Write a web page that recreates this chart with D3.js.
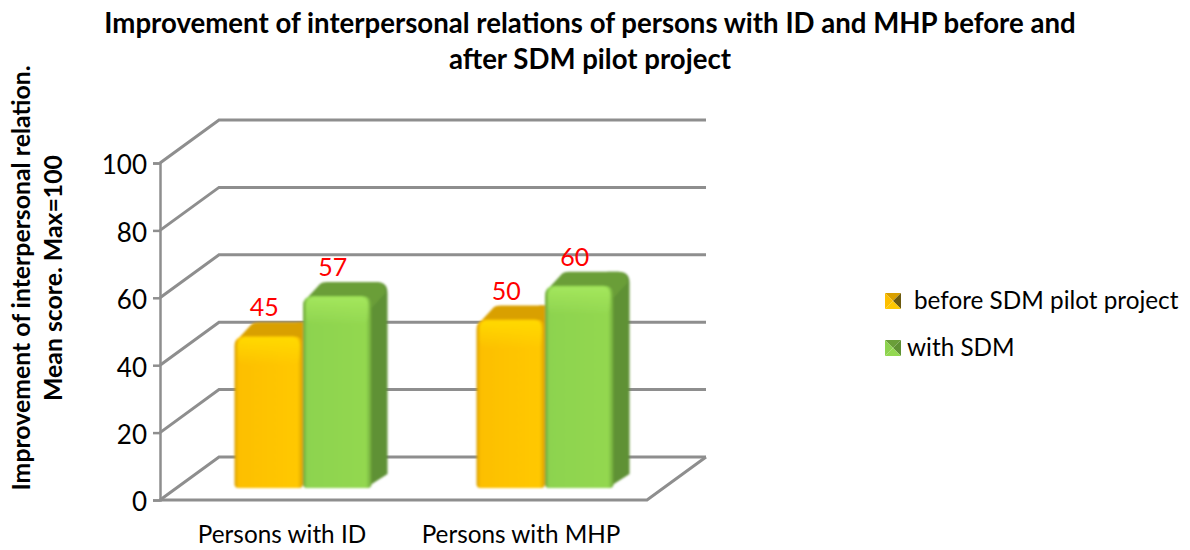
<!DOCTYPE html>
<html>
<head>
<meta charset="utf-8">
<script src="https://cdn.jsdelivr.net/npm/d3@7"></script>
<style>
  html, body { margin: 0; background: #fff; }
  text { font-family: Lato, "Open Sans", sans-serif; fill: #000; }
</style>
</head>
<body>
<div id="chart"></div>
<script>
const categories = ["Persons with ID", "Persons with MHP"];
const seriesNames = ["before SDM pilot project", "with SDM"];
const beforeValues = [45, 50];
const withValues = [57, 60];
const yTicks = [0, 20, 40, 60, 80, 100];
const titleLines = [
  "Improvement of interpersonal relations of persons with ID and MHP before and",
  "after SDM pilot project"
];
const yTitleLines = ["Improvement of interpersonal relation.", "Mean score. Max=100"];

// 3D offsets: wall depth and bar depth
const DEPTH_X = 59, DEPTH_Y = 43;
const BAR_DX = 16, BAR_DY = 14;
const BAR_INSET_X = 16, BAR_INSET_Y = 12;

const GRID = "#8e8e8e";
const palette = [
  { light: "#ffc800", mid: "#fdbf00", dark: "#d9a000", top: "#d9a000", side: "#b58500" },
  { light: "#93d850", mid: "#8dd34f", dark: "#6ea53a", top: "#6a9e39", side: "#5f9134" }
];

const width = 1190, height = 550;
const svg = d3.select("#chart").append("svg")
  .attr("width", width)
  .attr("height", height)
  .style("display", "block");

const y = d3.scaleLinear().domain([0, 100]).range([500, 163]);
const x0 = d3.scaleBand().domain(categories).range([162, 646]);
const x1 = d3.scaleBand().domain(seriesNames).range([0, 137]);
const groupOffset = (x0.bandwidth() - x1.range()[1]) / 2 + 4;

const defs = svg.append("defs");
defs.append("filter").attr("id", "soft")
  .append("feGaussianBlur").attr("stdDeviation", 0.8);

palette.forEach((c, i) => {
  const g = defs.append("linearGradient").attr("id", "face" + i);
  g.append("stop").attr("offset", "0%").attr("stop-color", c.dark);
  g.append("stop").attr("offset", "6%").attr("stop-color", c.mid);
  g.append("stop").attr("offset", "92%").attr("stop-color", c.light);
  g.append("stop").attr("offset", "100%").attr("stop-color", c.dark);
  const h = defs.append("linearGradient").attr("id", "shine" + i)
    .attr("x1", 0).attr("x2", 0).attr("y1", 0).attr("y2", 1);
  h.append("stop").attr("offset", "0%").attr("stop-color", i ? "#a6e85e" : "#ffdc00").attr("stop-opacity", 0.9);
  h.append("stop").attr("offset", "100%").attr("stop-color", i ? "#a6e85e" : "#ffdc00").attr("stop-opacity", 0);
});

// walls and floor
const grid = svg.append("g").attr("fill", "none").attr("stroke", GRID).attr("stroke-width", 3);
grid.selectAll(".wall")
  .data(yTicks)
  .enter()
  .append("path")
  .attr("class", "wall")
  .attr("d", d => `M160,${y(d)}L${160 + DEPTH_X},${y(d) - DEPTH_Y}H706`);
grid.append("path")
  .attr("d", `M160,${y(0)}H${647}L706,${y(0) - DEPTH_Y}`);

// y axis
const axis = svg.append("g")
  .attr("transform", "translate(160,0)")
  .call(d3.axisLeft(y).tickValues(yTicks).tickSize(7).tickPadding(6));
axis.selectAll("path, line").attr("stroke", GRID).attr("stroke-width", 2.5);
axis.selectAll("text")
  .attr("dy", "0.42em")
  .attr("fill", "#000")
  .style("font-size", "26px")
  .style("font-family", "Lato, sans-serif");

// bars
function drawBar(g, bx, bw, value, i) {
  const bottom = y(0) - BAR_INSET_Y;
  const top = bottom - (y(0) - y(value));
  const r = 11;
  const right = bx + bw;
  const backTop = top - BAR_DY;
  const backRight = right + BAR_DX;
  // side face
  g.append("path")
    .attr("d", `M${right - 6},${bottom}L${backRight},${bottom - BAR_DY}V${backTop + r}` +
      `Q${backRight},${backTop} ${backRight - r},${backTop}L${right - 6},${backTop}Z`)
    .attr("fill", palette[i].side);
  // top face
  g.append("path")
    .attr("d", `M${bx},${top + 8}Q${bx + 1},${top + 4} ${bx + 5},${top + 1}L${bx + BAR_DX + 1},${backTop + 2}` +
      `Q${bx + BAR_DX + 3},${backTop} ${bx + BAR_DX + 8},${backTop}H${backRight - r}` +
      `Q${backRight - 2},${backTop} ${backRight - 2},${backTop + r}L${right},${top + 12}Z`)
    .attr("fill", palette[i].top);
  // front face, rounder on top than at the foot
  g.append("path")
    .attr("d", `M${bx},${top + 10}Q${bx},${top} ${bx + 10},${top}H${right - 10}Q${right},${top} ${right},${top + 10}` +
      `V${bottom - 4}Q${right},${bottom} ${right - 4},${bottom}H${bx + 4}Q${bx},${bottom} ${bx},${bottom - 4}Z`)
    .attr("fill", `url(#face${i})`);
  g.append("rect")
    .attr("x", bx + 3).attr("y", top + 1)
    .attr("width", bw - 6).attr("height", 28)
    .attr("rx", 8)
    .attr("fill", `url(#shine${i})`);
}

const barLayer = svg.append("g").attr("filter", "url(#soft)");
const labelData = [];
categories.forEach((cat, k) => {
  [beforeValues, withValues].forEach((vals, i) => {
    const bx = x0(cat) + groupOffset + x1(seriesNames[i]) + BAR_INSET_X;
    drawBar(barLayer.append("g"), bx, x1.bandwidth(), vals[k], i);
    labelData.push({ v: vals[k], x: bx + x1.bandwidth() / 2 - 4.5, top: y(0) - BAR_INSET_Y - (y(0) - y(vals[k])) - BAR_DY });
  });
});

svg.selectAll(".val")
  .data(labelData)
  .enter()
  .append("text")
  .attr("class", "val")
  .attr("x", d => d.x)
  .attr("y", d => d.top - 6)
  .attr("text-anchor", "middle")
  .style("font-size", "25px")
  .style("fill", "#ff0000")
  .text(d => d.v);

// category labels
const catShift = [-1, -4];
svg.selectAll(".cat")
  .data(categories)
  .enter()
  .append("text")
  .attr("class", "cat")
  .attr("x", (d, i) => x0(d) + x0.bandwidth() / 2 + catShift[i])
  .attr("y", 543)
  .attr("text-anchor", "middle")
  .style("font-size", "24.3px")
  .text(d => d);

// titles
svg.selectAll(".title")
  .data(titleLines)
  .enter()
  .append("text")
  .attr("class", "title")
  .attr("x", 590)
  .attr("y", (d, i) => 33 + i * 36)
  .attr("text-anchor", "middle")
  .style("font-size", "27.6px")
  .style("font-weight", 700)
  .text(d => d);

svg.selectAll(".ytitle")
  .data(yTitleLines)
  .enter()
  .append("text")
  .attr("class", "ytitle")
  .attr("transform", (d, i) => `translate(${30 + i * 32},278) rotate(-90)`)
  .attr("text-anchor", "middle")
  .style("font-size", "24.8px")
  .style("font-weight", 700)
  .text(d => d);

// legend with bevelled swatches
const legend = svg.append("g");
const legendY = [301, 348];
const legendX = [914, 907];
seriesNames.forEach((name, i) => {
  const s = 16, sx = 885, sy = legendY[i] - 8, c = palette[i];
  const cx = sx + s / 2, cy = sy + s / 2;
  const tris = [
    [[sx, sy], [sx + s, sy], [cx, cy], c.top],
    [[sx + s, sy], [sx + s, sy + s], [cx, cy], "#6b5a10"],
    [[sx, sy + s], [sx + s, sy + s], [cx, cy], c.light],
    [[sx, sy], [sx, sy + s], [cx, cy], c.mid]
  ];
  if (i === 1) tris[1][3] = c.side;
  legend.selectAll(".s" + i)
    .data(tris)
    .enter()
    .append("path")
    .attr("d", t => `M${t[0]}L${t[1]}L${t[2]}Z`)
    .attr("fill", t => t[3]);
  legend.append("text")
    .attr("x", legendX[i])
    .attr("y", legendY[i] + 8)
    .style("font-size", "24.3px")
    .text(name);
});
</script>
</body>
</html>
